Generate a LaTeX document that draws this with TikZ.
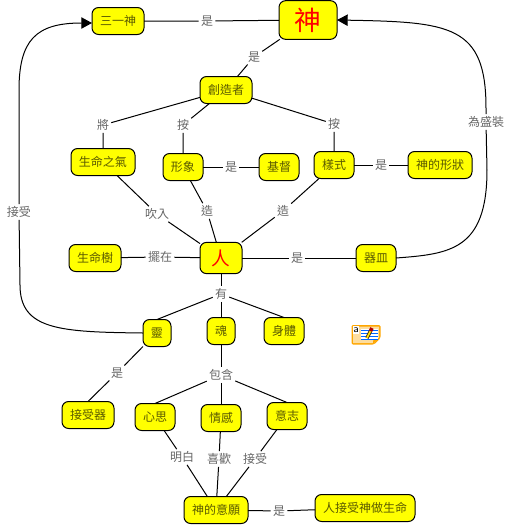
\documentclass[tikz,border=0pt]{standalone}
\usepackage{fontspec}
\setmainfont{Noto Sans CJK TC}
\usepackage{xcolor}
\usetikzlibrary{arrows.meta, positioning}

\definecolor{conceptfill}{RGB}{255,255,0}
\definecolor{conceptink}{RGB}{90,90,0}

\begin{document}
\begin{tikzpicture}[
        x=0.75pt, y=-0.75pt,
        concept/.style={
            rectangle,
            draw=black,
            line width=0.75pt,
            fill=conceptfill,
            rounded corners=5pt,
            minimum height=20.25pt,
            inner xsep=6pt,
            inner ysep=0pt,
            outer sep=0pt,
            text=conceptink,
            font=\fontsize{9}{9}\selectfont
        },
        keyword/.style={
            concept,
            text=red
        },
        relation/.style={
            inner sep=1.5pt,
            text=black!60,
            font=\fontsize{9}{9}\selectfont
        },
        link/.style={draw=black, line width=0.75pt},
        arrow/.style={link, -{Triangle[length=8pt,width=8.5pt]}}
    ]

    \useasboundingbox (0,0) rectangle (507,526);

    % top
    \node (god) [keyword, minimum width=43.5pt, minimum height=29pt, font=\fontsize{20}{20}\selectfont] at (308,20) {神};
    \node (trinity) [concept] at (118,21) {三一神};
    \node (creator) [concept] at (226,90) {創造者};

    % second row
    \node (breath) [concept] at (103,162) {生命之氣};
    \node (image) [concept] at (183,167) {形象};
    \node (christ) [concept] at (279,167) {基督};
    \node (pattern) [concept] at (334,165) {樣式};
    \node (likeness) [concept] at (440,165) {神的形狀};

    % man
    \node (man) [keyword, minimum width=31.5pt, minimum height=23.5pt, font=\fontsize{14}{14}\selectfont] at (221,258) {人};
    \node (tree) [concept] at (95,258) {生命樹};
    \node (vessel) [concept] at (376,258) {器皿};

    % three parts
    \node (spirit) [concept] at (157,333) {靈};
    \node (soul) [concept] at (221,331) {魂};
    \node (body) [concept] at (284,331) {身體};

    % lower rows
    \node (receiver) [concept] at (88,415) {接受器};
    \node (mind) [concept] at (155,417) {心思};
    \node (emotion) [concept] at (221,418) {情感};
    \node (will) [concept] at (287,416) {意志};
    \node (godwill) [concept] at (216,510) {神的意願};
    \node (life) [concept] at (365,508) {人接受神做生命};

    % relation words
    \node (relTrinity) [relation] at (207,21) {是};
    \node (relCreator) [relation] at (254,57) {是};
    \node (relBreath) [relation] at (103,125) {將};
    \node (relImage) [relation] at (183,125) {按};
    \node (relPattern) [relation] at (334,124) {按};
    \node (relChrist) [relation] at (231,167) {是};
    \node (relLikeness) [relation] at (381,165) {是};
    \node (relContain) [relation] at (486,122) {為盛裝};
    \node (relBlow) [relation] at (157,214) {吹入};
    \node (relMade) [relation] at (207,211) {造};
    \node (relMadeB) [relation] at (283,211) {造};
    \node (relAccept) [relation] at (19,212) {接受};
    \node (relPut) [relation] at (160,257) {擺在};
    \node (relVessel) [relation] at (297,258) {是};
    \node (relHas) [relation] at (221,294) {有};
    \node (relReceiver) [relation] at (117,373) {是};
    \node (relInclude) [relation] at (221,375) {包含};
    \node (relKnow) [relation] at (182,457) {明白};
    \node (relLike) [relation] at (219,459) {喜歡};
    \node (relTake) [relation] at (255,459) {接受};
    \node (relLife) [relation] at (279,511) {是};

    \coordinate (rightBend) at (487,170);
    \coordinate (rightTop) at (486,108);
    \coordinate (leftLow) at (20,285);
    \coordinate (leftBend) at (19,90);

    \draw [link] (god) -- (relTrinity) -- (trinity);
    \draw [link] (god) -- (relCreator) -- (creator);
    \draw [link] (creator) -- (relBreath) -- (breath);
    \draw [link] (creator) -- (relImage) -- (image);
    \draw [link] (creator) -- (relPattern) -- (pattern);
    \draw [link] (image) -- (relChrist) -- (christ);
    \draw [link] (pattern) -- (relLikeness) -- (likeness);
    \draw [link] (breath) -- (relBlow) -- (man);
    \draw [link] (image) -- (relMade) -- (man);
    \draw [link] (pattern) -- (relMadeB) -- (man);
    \draw [link] (tree) -- (relPut) -- (man);
    \draw [link] (man) -- (relVessel) -- (vessel);
    \draw [link] (man) -- (relHas);
    \draw [link] (relHas) -- (spirit.north);
    \draw [link] (relHas) -- (soul);
    \draw [link] (relHas) -- (body.north);
    \draw [link] (spirit.south west) -- (relReceiver) -- (receiver.north);
    \draw [link] (soul) -- (relInclude);
    \draw [link] (relInclude) -- (mind.north);
    \draw [link] (relInclude) -- (emotion);
    \draw [link] (relInclude) -- (will.north);
    \draw [link] (mind) -- (relKnow) -- (godwill);
    \draw [link] (emotion) -- (relLike) -- (godwill);
    \draw [link] (will) -- (relTake) -- (godwill);
    \draw [link] (godwill) -- (relLife) -- (life);

    \draw [arrow] (vessel.east) .. controls (450,254) and (487,250) .. (rightBend) -- (relContain) -- (rightTop) .. controls (486,25) and (450,22) .. (god.east);
    \draw [arrow] (spirit.west) .. controls (60,332) and (20,330) .. (leftLow) -- (relAccept) -- (leftBend) .. controls (19,40) and (36,23) .. ([yshift=-1.5pt]trinity.west);

    % note icon
    \fill [orange!70!yellow, rounded corners=1pt] (351.5,325) -- (380.5,325) -- (380.5,338) -- (374,344.5) -- (351.5,344.5) -- cycle;
    \fill [yellow!30!orange!35!white] (353,326.5) -- (379,326.5) -- (379,337.5) -- (373.5,343) -- (353,343) -- cycle;
    \fill [orange!70!yellow] (373,343.5) -- (373.5,338) -- (379.5,338) -- cycle;
    \node (iconLetter) [fill=white, inner sep=0pt, minimum width=4.5pt, minimum height=6.5pt, font=\fontsize{8}{8}\selectfont\sffamily] at (356,330) {a};
    \fill [white] (361,329) rectangle (378,339);
    \foreach \y in {330,333,336,339}
        \draw [blue!60!cyan, line width=0.75pt] (361,\y) -- (378,\y);
    \draw [black!70!orange, line width=2.6pt] (367,338) -- (370.5,331);
    \draw [yellow!90!orange, line width=1.3pt] (367,338) -- (370.5,331);
    \draw [red!70!black, line width=2.8pt] (370.5,331) -- (372,328);
\end{tikzpicture}
\end{document}
